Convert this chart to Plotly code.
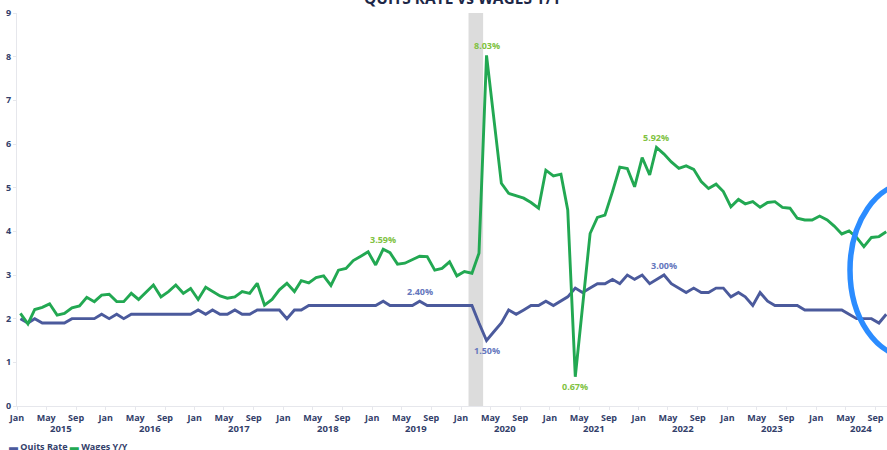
import pandas as pd
import plotly.graph_objects as go

# ---------------- data ----------------
quits_rate = [
    2.0, 1.9, 2.0, 1.9, 1.9, 1.9, 1.9, 2.0, 2.0, 2.0, 2.0, 2.1,   # 2015
    2.0, 2.1, 2.0, 2.1, 2.1, 2.1, 2.1, 2.1, 2.1, 2.1, 2.1, 2.1,   # 2016
    2.2, 2.1, 2.2, 2.1, 2.1, 2.2, 2.1, 2.1, 2.2, 2.2, 2.2, 2.2,   # 2017
    2.0, 2.2, 2.2, 2.3, 2.3, 2.3, 2.3, 2.3, 2.3, 2.3, 2.3, 2.3,   # 2018
    2.3, 2.4, 2.3, 2.3, 2.3, 2.3, 2.4, 2.3, 2.3, 2.3, 2.3, 2.3,   # 2019
    2.3, 2.3, 1.9, 1.5, 1.7, 1.9, 2.2, 2.1, 2.2, 2.3, 2.3, 2.4,   # 2020
    2.3, 2.4, 2.5, 2.7, 2.6, 2.7, 2.8, 2.8, 2.9, 2.8, 3.0, 2.9,   # 2021
    3.0, 2.8, 2.9, 3.0, 2.8, 2.7, 2.6, 2.7, 2.6, 2.6, 2.7, 2.7,   # 2022
    2.5, 2.6, 2.5, 2.3, 2.6, 2.4, 2.3, 2.3, 2.3, 2.3, 2.2, 2.2,   # 2023
    2.2, 2.2, 2.2, 2.2, 2.1, 2.0, 2.0, 2.0, 1.9, 2.1,             # 2024
]
wages_yy = [
    2.12, 1.88, 2.21, 2.26, 2.34, 2.08, 2.12, 2.25, 2.29, 2.49, 2.39, 2.54,   # 2015
    2.56, 2.39, 2.39, 2.58, 2.44, 2.60, 2.77, 2.50, 2.62, 2.77, 2.58, 2.69,   # 2016
    2.44, 2.72, 2.62, 2.52, 2.47, 2.50, 2.62, 2.58, 2.81, 2.31, 2.44, 2.66,   # 2017
    2.81, 2.62, 2.87, 2.82, 2.94, 2.98, 2.76, 3.11, 3.15, 3.33, 3.43, 3.53,   # 2018
    3.23, 3.59, 3.51, 3.25, 3.27, 3.36, 3.43, 3.42, 3.11, 3.15, 3.30, 2.98,   # 2019
    3.08, 3.04, 3.50, 8.03, 6.60, 5.10, 4.87, 4.81, 4.76, 4.66, 4.53, 5.40,   # 2020
    5.27, 5.31, 4.49, 0.67, 2.30, 3.95, 4.32, 4.37, 4.91, 5.47, 5.44, 5.02,   # 2021
    5.69, 5.29, 5.92, 5.77, 5.59, 5.44, 5.50, 5.42, 5.14, 4.98, 5.08, 4.91,   # 2022
    4.56, 4.73, 4.63, 4.68, 4.55, 4.66, 4.68, 4.55, 4.53, 4.30, 4.26, 4.26,   # 2023
    4.35, 4.26, 4.12, 3.94, 4.01, 3.86, 3.65, 3.86, 3.88, 3.99,               # 2024
]
series_names = ["Quits Rate", "Wages Y/Y"]
years = [2015, 2016, 2017, 2018, 2019, 2020, 2021, 2022, 2023, 2024]
y_ticks = [0, 1, 2, 3, 4, 5, 6, 7, 8, 9]
recession = ["2020-02-01", "2020-04-01"]
wage_label_idx = [49, 63, 75, 86]
wage_label_side = ["above", "above", "below", "above"]
quits_label_idx = [54, 63, 87]
quits_label_side = ["above", "below", "above"]
title_text = "QUITS RATE vs WAGES Y/Y"

# ---------------- styling ----------------
BLUE = "#4b5a9c"
GREEN = "#22a852"
BLUE_LBL = "#6577bd"
GREEN_LBL = "#80c241"
NAVY = "#33406a"
FAINT = "#e6e7ec"
FONT = "Open Sans"

dates = pd.date_range("2015-01-01", periods=len(wages_yy), freq="MS") + pd.Timedelta(days=14)
tick_dates = pd.date_range("2015-01-01", "2024-09-01", freq="4MS")
tick_text = [d.strftime("%b") for d in tick_dates]

fig = go.Figure()
fig.add_trace(go.Scatter(x=dates, y=quits_rate, mode="lines", name=series_names[0],
                         line=dict(color=BLUE, width=2.9), hoverinfo="skip"))
fig.add_trace(go.Scatter(x=dates, y=wages_yy, mode="lines", name=series_names[1],
                         line=dict(color=GREEN, width=2.9), hoverinfo="skip"))

# recession band
fig.add_shape(type="rect", xref="x", yref="paper", x0=recession[0], x1=recession[1],
              y0=0, y1=1, fillcolor="#dcdcdc", line=dict(width=0), layer="below")

# data labels
def add_labels(idx_list, sides, vals, color):
    for i, s in zip(idx_list, sides):
        fig.add_annotation(x=dates[i], y=vals[i], text=f"{vals[i]:.2f}%", showarrow=False,
                           yshift=10 if s == "above" else -10,
                           font=dict(family=FONT, size=9, color=color, weight="bold"))

add_labels(wage_label_idx, wage_label_side, wages_yy, GREEN_LBL)
add_labels(quits_label_idx, quits_label_side, quits_rate, BLUE_LBL)

# year labels under the month ticks
for yr in years:
    fig.add_annotation(x=f"{yr}-07-01", xref="x", yref="paper", y=-0.0585, yanchor="middle",
                       text=str(yr), showarrow=False,
                       font=dict(family=FONT, size=9.5, color=NAVY, weight="bold"))

# title (cropped at top of image)
fig.add_annotation(xref="paper", yref="paper", x=0.5126, y=1.0045, xanchor="center", yanchor="bottom",
                   text=title_text, showarrow=False,
                   font=dict(family=FONT, size=15.5, color="#1d2747", weight="bold"))

# legend drawn as text
legend_html = (f'<span style="color:{BLUE}">▬</span> {series_names[0]} '
               f'<span style="color:{GREEN}">▬</span> {series_names[1]}')
fig.add_annotation(xref="paper", yref="paper", x=-0.0115, y=-0.1043, xanchor="left", yanchor="middle",
                   text=legend_html, showarrow=False,
                   font=dict(family=FONT, size=9, color=NAVY, weight="bold"))

# hand-drawn style highlight ellipse
fig.add_shape(type="circle", xref="paper", yref="paper",
              x0=(850 - 17) / 870, x1=(970 - 17) / 870,
              y0=(406 - 357) / 393, y1=(406 - 183) / 393,
              line=dict(color="#2b8cff", width=5.5), layer="above")

fig.update_layout(
    width=887, height=450,
    margin=dict(l=17, r=0, t=13, b=44),
    paper_bgcolor="white", plot_bgcolor="white",
    showlegend=False,
    xaxis=dict(type="date", range=["2015-01-01", "2024-10-18"],
               tickvals=tick_dates, ticktext=tick_text,
               showgrid=False, zeroline=False, showline=True, linecolor=FAINT, linewidth=1,
               ticks="outside", ticklen=3, tickcolor=FAINT,
               tickfont=dict(family=FONT, size=9, color=NAVY, weight="bold")),
    yaxis=dict(range=[0, 9], tickvals=y_ticks,
               showgrid=False, zeroline=False, showline=True, linecolor=FAINT, linewidth=1,
               ticks="outside", ticklen=3, tickcolor=FAINT,
               tickfont=dict(family=FONT, size=9, color=NAVY, weight="bold")),
)

fig.write_html("out.html")
